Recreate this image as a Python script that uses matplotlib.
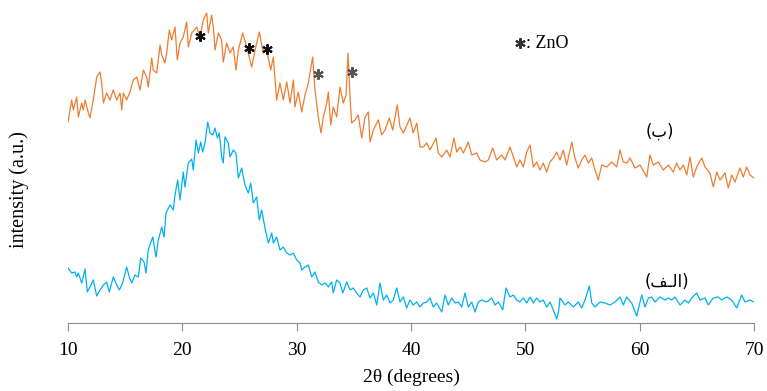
import matplotlib
matplotlib.use("Agg")
import matplotlib.pyplot as plt

# sample (ب): orange trace
theta_b = [10.00, 10.32, 10.46, 10.76, 10.90, 11.20, 11.34, 11.49, 11.78, 11.92, 12.21, 12.51, 12.80, 12.95,
           13.09, 13.38, 13.67, 13.96, 14.26, 14.55, 14.70, 14.84, 15.13, 15.42, 15.71, 16.01, 16.30, 16.59,
           16.88, 17.02, 17.32, 17.46, 17.76, 18.05, 18.20, 18.48, 18.63, 18.86, 19.07, 19.36, 19.56, 19.80,
           20.08, 20.38, 20.52, 20.82, 21.26, 21.55, 21.83, 22.13, 22.27, 22.57, 22.71, 22.86, 23.15, 23.44,
           23.58, 23.88, 24.17, 24.46, 24.69, 24.90, 25.28, 25.63, 26.07, 26.36, 26.73, 27.08, 27.38, 27.73,
           27.96, 28.25, 28.54, 28.83, 29.13, 29.42, 29.71, 29.85, 30.14, 30.44, 30.73, 31.02, 31.40, 31.60,
           31.89, 32.13, 32.33, 32.63, 32.77, 32.98, 33.20, 33.50, 33.79, 34.08, 34.32, 34.49, 34.67, 34.81,
           35.10, 35.39, 35.69, 35.98, 36.27, 36.42, 36.71, 37.14, 37.44, 37.73, 38.10, 38.40, 38.80, 39.04,
           39.33, 39.91, 40.20, 40.50, 40.79, 41.08, 41.37, 41.66, 42.19, 42.39, 42.69, 43.12, 43.41, 43.76,
           44.00, 44.29, 44.58, 45.01, 45.31, 45.75, 46.04, 46.47, 46.76, 47.15, 47.49, 47.93, 48.22, 48.66,
           48.95, 49.25, 49.53, 49.82, 50.12, 50.41, 50.70, 50.99, 51.28, 51.57, 51.87, 52.16, 52.45, 52.74,
           53.03, 53.32, 53.62, 54.06, 54.34, 54.63, 54.93, 55.22, 55.51, 55.81, 56.09, 56.38, 56.68, 57.12,
           57.55, 57.99, 58.28, 58.57, 58.87, 59.16, 59.59, 60.03, 60.62, 60.90, 61.19, 61.63, 62.07, 62.51,
           62.94, 63.24, 63.53, 63.82, 64.12, 64.40, 64.69, 64.99, 65.43, 65.72, 66.15, 66.44, 66.74, 67.03,
           67.46, 67.75, 68.05, 68.34, 68.78, 69.06, 69.36, 69.65, 70.00]
int_b = [200, 222, 212, 225, 205, 219, 212, 222, 209, 204, 222, 245, 250, 239,
         219, 229, 222, 232, 222, 229, 212, 229, 222, 230, 242, 245, 232, 252,
         245, 235, 264, 252, 249, 277, 267, 259, 269, 292, 282, 295, 262, 279,
         285, 300, 275, 289, 295, 285, 302, 309, 289, 307, 295, 272, 289, 282,
         260, 279, 269, 275, 252, 272, 289, 275, 255, 272, 290, 269, 272, 252,
         265, 222, 239, 222, 240, 219, 242, 215, 230, 210, 227, 239, 265, 232,
         205, 189, 205, 219, 230, 197, 215, 205, 235, 219, 227, 269, 225, 199,
         202, 207, 184, 205, 210, 180, 192, 202, 187, 192, 204, 192, 217, 195,
         189, 204, 189, 199, 175, 175, 179, 172, 184, 169, 165, 172, 165, 184,
         170, 175, 169, 180, 167, 169, 162, 160, 162, 174, 162, 167, 162, 175,
         165, 155, 162, 155, 170, 177, 155, 160, 152, 159, 150, 160, 164, 170,
         162, 172, 157, 180, 164, 154, 162, 167, 159, 164, 152, 142, 157, 155,
         160, 155, 172, 160, 159, 164, 154, 157, 145, 167, 157, 160, 152, 157,
         150, 159, 152, 157, 147, 165, 145, 155, 164, 155, 149, 135, 150, 142,
         149, 134, 147, 140, 154, 145, 155, 147, 144]

# sample (الف): blue trace
theta_a = [10.00, 10.32, 10.61, 10.76, 10.90, 11.20, 11.49, 11.69, 11.92, 12.21, 12.51, 12.80, 13.09, 13.38,
           13.61, 13.96, 14.26, 14.49, 14.78, 15.13, 15.36, 15.57, 15.86, 16.15, 16.36, 16.65, 16.82, 17.02,
           17.41, 17.70, 17.90, 18.20, 18.40, 18.57, 18.92, 19.21, 19.36, 19.59, 19.80, 20.08, 20.23, 20.52,
           20.82, 20.96, 21.20, 21.40, 21.61, 21.78, 21.98, 22.22, 22.42, 22.66, 22.86, 23.06, 23.23, 23.44,
           23.58, 23.73, 24.02, 24.17, 24.46, 24.69, 24.90, 25.19, 25.48, 25.77, 25.98, 26.21, 26.50, 26.73,
           26.94, 27.23, 27.52, 27.82, 27.96, 28.25, 28.54, 28.83, 29.13, 29.42, 29.71, 30.00, 30.29, 30.44,
           30.73, 31.02, 31.32, 31.60, 31.89, 32.19, 32.48, 32.77, 33.06, 33.20, 33.50, 33.79, 34.03, 34.38,
           34.67, 34.95, 35.25, 35.54, 35.83, 36.13, 36.42, 36.71, 37.00, 37.29, 37.58, 37.88, 38.16, 38.45,
           38.75, 39.04, 39.33, 39.62, 39.91, 40.20, 40.50, 40.79, 41.08, 41.37, 41.66, 41.95, 42.25, 42.69,
           42.97, 43.26, 43.56, 43.85, 44.14, 44.44, 44.72, 45.01, 45.31, 45.60, 45.89, 46.18, 46.62, 47.06,
           47.35, 47.64, 48.02, 48.31, 48.66, 48.95, 49.25, 49.53, 49.82, 50.12, 50.41, 50.70, 50.99, 51.28,
           51.57, 51.87, 52.16, 52.45, 52.74, 52.90, 53.03, 53.47, 53.76, 54.20, 54.63, 54.93, 55.22, 55.60,
           55.81, 56.09, 56.53, 56.97, 57.41, 57.84, 58.28, 58.57, 58.87, 59.30, 59.74, 60.18, 60.47, 60.76,
           61.05, 61.34, 61.78, 62.22, 62.51, 62.80, 63.09, 63.53, 63.97, 64.26, 64.55, 64.99, 65.28, 65.72,
           66.00, 66.44, 66.88, 67.17, 67.61, 68.05, 68.49, 68.92, 69.21, 69.65, 70.00]
int_a = [54, 49, 50, 45, 49, 39, 53, 30, 35, 42, 26, 32, 37, 40,
         30, 45, 37, 32, 39, 55, 45, 39, 47, 45, 64, 60, 49, 72,
         85, 65, 82, 95, 85, 109, 117, 112, 127, 142, 122, 150, 135, 159,
         163, 152, 182, 169, 180, 170, 179, 200, 189, 187, 194, 184, 189, 165,
         159, 185, 179, 165, 172, 169, 144, 154, 137, 129, 139, 119, 125, 102,
         112, 94, 79, 89, 79, 85, 72, 75, 69, 67, 69, 62, 59, 52,
         55, 57, 45, 50, 40, 37, 39, 35, 40, 29, 42, 39, 29, 40,
         32, 34, 29, 25, 32, 34, 24, 29, 17, 39, 22, 27, 19, 22,
         34, 20, 25, 14, 22, 17, 20, 15, 19, 20, 24, 15, 19, 10,
         27, 17, 24, 19, 20, 15, 29, 15, 20, 10, 20, 22, 20, 24,
         17, 20, 12, 34, 25, 27, 22, 20, 24, 19, 25, 19, 24, 20,
         22, 15, 20, 12, 3, 10, 24, 17, 20, 15, 20, 14, 22, 36,
         19, 15, 20, 19, 17, 20, 25, 17, 25, 19, 6, 27, 15, 24,
         25, 20, 25, 22, 24, 22, 25, 17, 22, 19, 24, 29, 22, 24,
         17, 24, 25, 22, 25, 22, 14, 27, 20, 22, 20]

# ZnO reflections marked with asterisks
zno_theta = [21.55, 25.84, 27.44, 31.90, 34.87]
zno_int = [286, 274, 273, 248, 250]
zno_colors = ['#111111', '#111111', '#111111', '#555555', '#555555']

plt.rcParams['font.family'] = ['Liberation Serif', 'DejaVu Sans']

fig = plt.figure(figsize=(7.67, 3.91), dpi=100)
ax = fig.add_axes([68 / 767, (391 - 323) / 391, 686 / 767, 313 / 391])

ax.plot(theta_b, int_b, color='#ED7D31', lw=0.9)
ax.plot(theta_a, int_a, color='#00B0F0', lw=0.9)

for t, i, c in zip(zno_theta, zno_int, zno_colors):
    ax.plot(t, i, marker=(6, 2, 0), ms=7.5, mew=1.5, color=c, ls='none')

ax.plot(49.55, 279, marker=(6, 2, 0), ms=7.5, mew=1.5, color='#333333', ls='none')
ax.text(50.05, 278, ': ZnO', fontsize=13, va='center', ha='left')

ax.text(61.8, 190, '(\uFE8F)', fontsize=12, va='center', ha='center', family=['DejaVu Sans'])
ax.text(62.4, 40, '(\uFED2\u0640\uFEDF\uFE8D)', fontsize=12, va='center', ha='center',
        family=['DejaVu Sans'])

ax.set_xlim(10, 70)
ax.set_ylim(-1, 312)
ax.set_xticks([10, 20, 30, 40, 50, 60, 70])
ax.set_yticks([])
for s in ['left', 'top', 'right']:
    ax.spines[s].set_visible(False)
ax.spines['bottom'].set_color('#8c8c8c')
ax.tick_params(axis='x', direction='out', length=6, color='#8c8c8c', labelsize=14, pad=8)

ax.set_xlabel('2θ (degrees)', fontsize=14, labelpad=7)
ax.set_ylabel('intensity (a.u.)', fontsize=14.5)
ax.yaxis.set_label_coords(-0.057, 0.425)

fig.savefig('out.png', dpi=100)
